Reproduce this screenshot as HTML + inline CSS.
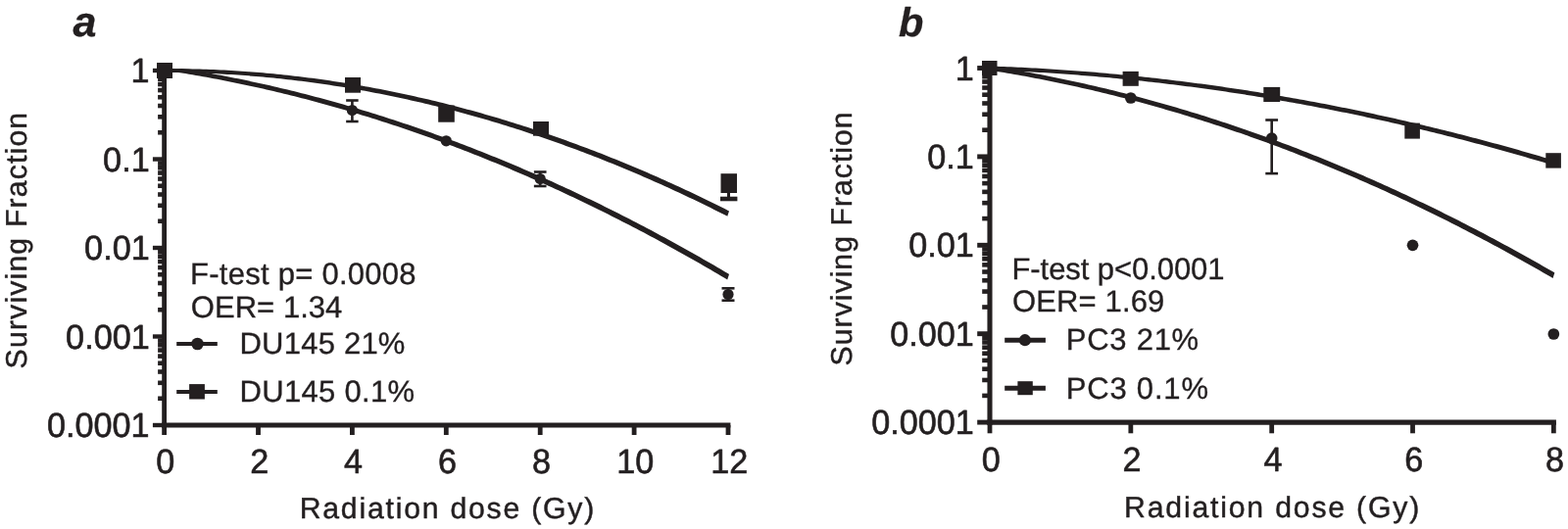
<!DOCTYPE html>
<html><head><meta charset="utf-8"><title>Surviving fraction vs radiation dose</title>
<style>
html,body{margin:0;padding:0;background:#fff;}
body{width:1600px;height:540px;overflow:hidden;}
svg{display:block;}
svg text{text-rendering:geometricPrecision;font-family:"Liberation Sans",Arial,Helvetica,sans-serif;fill:#231f20;white-space:pre;}
</style></head><body>
<svg width="1600" height="540" viewBox="0 0 1600 540">
<rect x="0" y="0" width="1600" height="540" fill="#ffffff"/>
<path d="M167.60,70.10 L171.20,70.10 L174.79,70.11 L178.39,70.13 L181.98,70.16 L185.58,70.20 L189.18,70.26 L192.77,70.33 L196.37,70.40 L199.97,70.49 L203.56,70.60 L207.16,70.71 L210.75,70.83 L214.35,70.97 L217.95,71.11 L221.54,71.27 L225.14,71.44 L228.74,71.62 L232.33,71.81 L235.93,72.02 L239.53,72.23 L243.12,72.46 L246.72,72.69 L250.31,72.94 L253.91,73.20 L257.51,73.48 L261.10,73.76 L264.70,74.05 L268.30,74.36 L271.89,74.68 L275.49,75.01 L279.08,75.35 L282.68,75.70 L286.28,76.06 L289.87,76.44 L293.47,76.82 L297.06,77.22 L300.66,77.63 L304.26,78.05 L307.85,78.48 L311.45,78.92 L315.05,79.38 L318.64,79.85 L322.24,80.32 L325.84,80.81 L329.43,81.31 L333.03,81.82 L336.62,82.35 L340.22,82.88 L343.82,83.43 L347.41,83.98 L351.01,84.55 L354.61,85.13 L358.20,85.72 L361.80,86.33 L365.39,86.94 L368.99,87.57 L372.59,88.20 L376.18,88.85 L379.78,89.51 L383.38,90.18 L386.97,90.86 L390.57,91.56 L394.16,92.26 L397.76,92.98 L401.36,93.71 L404.95,94.45 L408.55,95.20 L412.14,95.96 L415.74,96.74 L419.34,97.52 L422.93,98.32 L426.53,99.13 L430.13,99.95 L433.72,100.78 L437.32,101.62 L440.91,102.47 L444.51,103.34 L448.11,104.21 L451.70,105.10 L455.30,106.00 L458.90,106.91 L462.49,107.83 L466.09,108.77 L469.69,109.71 L473.28,110.67 L476.88,111.64 L480.47,112.62 L484.07,113.61 L487.67,114.61 L491.26,115.62 L494.86,116.65 L498.46,117.68 L502.05,118.73 L505.65,119.79 L509.24,120.86 L512.84,121.94 L516.44,123.04 L520.03,124.14 L523.63,125.26 L527.23,126.38 L530.82,127.52 L534.42,128.67 L538.01,129.84 L541.61,131.01 L545.21,132.19 L548.80,133.39 L552.40,134.60 L556.00,135.81 L559.59,137.05 L563.19,138.29 L566.78,139.54 L570.38,140.80 L573.98,142.08 L577.57,143.37 L581.17,144.67 L584.76,145.98 L588.36,147.30 L591.96,148.63 L595.55,149.97 L599.15,151.33 L602.75,152.70 L606.34,154.08 L609.94,155.47 L613.54,156.87 L617.13,158.28 L620.73,159.70 L624.32,161.14 L627.92,162.59 L631.52,164.04 L635.11,165.51 L638.71,167.00 L642.31,168.49 L645.90,169.99 L649.50,171.51 L653.09,173.03 L656.69,174.57 L660.29,176.12 L663.88,177.68 L667.48,179.25 L671.08,180.84 L674.67,182.43 L678.27,184.04 L681.86,185.66 L685.46,187.29 L689.06,188.93 L692.65,190.58 L696.25,192.24 L699.85,193.92 L703.44,195.61 L707.04,197.30 L710.63,199.01 L714.23,200.73 L717.83,202.47 L721.42,204.21 L725.02,205.96 L728.62,207.73 L732.21,209.51 L735.81,211.30 L739.40,213.10 L743.00,214.91 L744.00,215.41 L742.20,220.72 L743.00,221.12 L739.40,219.29 L735.81,217.48 L732.21,215.67 L728.62,213.88 L725.02,212.10 L721.42,210.33 L717.83,208.57 L714.23,206.82 L710.63,205.09 L707.04,203.36 L703.44,201.65 L699.85,199.95 L696.25,198.26 L692.65,196.58 L689.06,194.91 L685.46,193.26 L681.86,191.61 L678.27,189.98 L674.67,188.36 L671.08,186.75 L667.48,185.15 L663.88,183.56 L660.29,181.99 L656.69,180.42 L653.09,178.87 L649.50,177.33 L645.90,175.80 L642.31,174.28 L638.71,172.77 L635.11,171.27 L631.52,169.79 L627.92,168.31 L624.32,166.85 L620.73,165.40 L617.13,163.96 L613.54,162.54 L609.94,161.12 L606.34,159.71 L602.75,158.32 L599.15,156.94 L595.55,155.57 L591.96,154.21 L588.36,152.86 L584.76,151.52 L581.17,150.20 L577.57,148.88 L573.98,147.58 L570.38,146.29 L566.78,145.01 L563.19,143.74 L559.59,142.49 L556.00,141.24 L552.40,140.01 L548.80,138.79 L545.21,137.57 L541.61,136.38 L538.01,135.19 L534.42,134.01 L530.82,132.84 L527.23,131.69 L523.63,130.55 L520.03,129.42 L516.44,128.30 L512.84,127.19 L509.24,126.09 L505.65,125.01 L502.05,123.93 L498.46,122.87 L494.86,121.82 L491.26,120.78 L487.67,119.75 L484.07,118.73 L480.47,117.73 L476.88,116.73 L473.28,115.75 L469.69,114.78 L466.09,113.82 L462.49,112.87 L458.90,111.93 L455.30,111.01 L451.70,110.09 L448.11,109.19 L444.51,108.30 L440.91,107.42 L437.32,106.55 L433.72,105.69 L430.13,104.85 L426.53,104.01 L422.93,103.19 L419.34,102.38 L415.74,101.58 L412.14,100.79 L408.55,100.01 L404.95,99.24 L401.36,98.49 L397.76,97.74 L394.16,97.01 L390.57,96.29 L386.97,95.58 L383.38,94.89 L379.78,94.20 L376.18,93.52 L372.59,92.86 L368.99,92.21 L365.39,91.57 L361.80,90.94 L358.20,90.32 L354.61,89.71 L351.01,89.12 L347.41,88.54 L343.82,87.96 L340.22,87.40 L336.62,86.85 L333.03,86.32 L329.43,85.79 L325.84,85.27 L322.24,84.77 L318.64,84.28 L315.05,83.80 L311.45,83.33 L307.85,82.87 L304.26,82.42 L300.66,81.99 L297.06,81.56 L293.47,81.15 L289.87,80.75 L286.28,80.36 L282.68,79.98 L279.08,79.61 L275.49,79.26 L271.89,78.92 L268.30,78.58 L264.70,78.26 L261.10,77.95 L257.51,77.65 L253.91,77.37 L250.31,77.09 L246.72,76.83 L243.12,76.57 L239.53,76.33 L235.93,76.10 L232.33,75.88 L228.74,75.68 L225.14,75.48 L221.54,75.30 L217.95,75.12 L214.35,74.96 L210.75,74.81 L207.16,74.67 L203.56,74.55 L199.97,74.43 L196.37,74.33 L192.77,74.23 L189.18,74.15 L185.58,74.08 L181.98,74.02 L178.39,73.97 L174.79,73.94 L171.20,73.91 L167.60,73.90Z" fill="#231f20" stroke="none"/>
<path d="M167.60,70.10 L171.20,70.10 L174.79,70.11 L178.39,70.13 L181.98,70.16 L185.58,69.95 L189.18,70.53 L192.77,71.11 L196.37,71.71 L199.97,72.31 L203.56,72.93 L207.16,73.56 L210.75,74.19 L214.35,74.84 L217.95,75.50 L221.54,76.16 L225.14,76.84 L228.74,77.53 L232.33,78.22 L235.93,78.93 L239.53,79.65 L243.12,80.37 L246.72,81.11 L250.31,81.86 L253.91,82.61 L257.51,83.38 L261.10,84.16 L264.70,84.95 L268.30,85.74 L271.89,86.55 L275.49,87.37 L279.08,88.19 L282.68,89.03 L286.28,89.88 L289.87,90.74 L293.47,91.61 L297.06,92.48 L300.66,93.37 L304.26,94.27 L307.85,95.18 L311.45,96.09 L315.05,97.02 L318.64,97.96 L322.24,98.91 L325.84,99.87 L329.43,100.84 L333.03,101.81 L336.62,102.80 L340.22,103.80 L343.82,104.81 L347.41,105.83 L351.01,106.86 L354.61,107.90 L358.20,108.94 L361.80,110.00 L365.39,111.07 L368.99,112.15 L372.59,113.24 L376.18,114.34 L379.78,115.45 L383.38,116.57 L386.97,117.70 L390.57,118.84 L394.16,119.99 L397.76,121.15 L401.36,122.31 L404.95,123.49 L408.55,124.68 L412.14,125.88 L415.74,127.09 L419.34,128.31 L422.93,129.54 L426.53,130.78 L430.13,132.03 L433.72,133.29 L437.32,134.56 L440.91,135.84 L444.51,137.13 L448.11,138.43 L451.70,139.74 L455.30,141.07 L458.90,142.40 L462.49,143.74 L466.09,145.09 L469.69,146.45 L473.28,147.82 L476.88,149.20 L480.47,150.59 L484.07,151.99 L487.67,153.40 L491.26,154.82 L494.86,156.25 L498.46,157.70 L502.05,159.15 L505.65,160.61 L509.24,162.08 L512.84,163.56 L516.44,165.05 L520.03,166.55 L523.63,168.07 L527.23,169.59 L530.82,171.12 L534.42,172.66 L538.01,174.21 L541.61,175.77 L545.21,177.35 L548.80,178.93 L552.40,180.52 L556.00,182.12 L559.59,183.73 L563.19,185.36 L566.78,186.99 L570.38,188.63 L573.98,190.28 L577.57,191.95 L581.17,193.62 L584.76,195.30 L588.36,196.99 L591.96,198.70 L595.55,200.41 L599.15,202.13 L602.75,203.87 L606.34,205.61 L609.94,207.36 L613.54,209.12 L617.13,210.90 L620.73,212.68 L624.32,214.47 L627.92,216.28 L631.52,218.09 L635.11,219.91 L638.71,221.75 L642.31,223.59 L645.90,225.45 L649.50,227.31 L653.09,229.18 L656.69,231.07 L660.29,232.96 L663.88,234.87 L667.48,236.78 L671.08,238.70 L674.67,240.64 L678.27,242.58 L681.86,244.54 L685.46,246.50 L689.06,248.47 L692.65,250.46 L696.25,252.45 L699.85,254.46 L703.44,256.47 L707.04,258.50 L710.63,260.53 L714.23,262.58 L717.83,264.63 L721.42,266.70 L725.02,268.77 L728.62,270.86 L732.21,272.95 L735.81,275.06 L739.40,277.17 L743.00,279.30 L744.00,279.89 L742.20,285.45 L743.00,285.92 L739.40,283.78 L735.81,281.65 L732.21,279.53 L728.62,277.43 L725.02,275.33 L721.42,273.24 L717.83,271.16 L714.23,269.09 L710.63,267.04 L707.04,264.99 L703.44,262.95 L699.85,260.92 L696.25,258.90 L692.65,256.90 L689.06,254.90 L685.46,252.91 L681.86,250.93 L678.27,248.96 L674.67,247.01 L671.08,245.06 L667.48,243.12 L663.88,241.20 L660.29,239.28 L656.69,237.37 L653.09,235.47 L649.50,233.59 L645.90,231.71 L642.31,229.84 L638.71,227.99 L635.11,226.14 L631.52,224.30 L627.92,222.48 L624.32,220.66 L620.73,218.85 L617.13,217.06 L613.54,215.27 L609.94,213.49 L606.34,211.73 L602.75,209.97 L599.15,208.22 L595.55,206.49 L591.96,204.76 L588.36,203.05 L584.76,201.34 L581.17,199.64 L577.57,197.96 L573.98,196.28 L570.38,194.62 L566.78,192.96 L563.19,191.31 L559.59,189.68 L556.00,188.05 L552.40,186.44 L548.80,184.83 L545.21,183.24 L541.61,181.65 L538.01,180.08 L534.42,178.51 L530.82,176.96 L527.23,175.41 L523.63,173.88 L520.03,172.35 L516.44,170.84 L512.84,169.33 L509.24,167.84 L505.65,166.35 L502.05,164.88 L498.46,163.41 L494.86,161.96 L491.26,160.52 L487.67,159.08 L484.07,157.66 L480.47,156.24 L476.88,154.84 L473.28,153.44 L469.69,152.06 L466.09,150.69 L462.49,149.32 L458.90,147.97 L455.30,146.62 L451.70,145.29 L448.11,143.97 L444.51,142.65 L440.91,141.35 L437.32,140.06 L433.72,138.77 L430.13,137.50 L426.53,136.24 L422.93,134.98 L419.34,133.74 L415.74,132.51 L412.14,131.28 L408.55,130.07 L404.95,128.87 L401.36,127.67 L397.76,126.49 L394.16,125.32 L390.57,124.16 L386.97,123.00 L383.38,121.86 L379.78,120.73 L376.18,119.61 L372.59,118.49 L368.99,117.39 L365.39,116.30 L361.80,115.22 L358.20,114.15 L354.61,113.08 L351.01,112.03 L347.41,110.99 L343.82,109.96 L340.22,108.94 L336.62,107.92 L333.03,106.92 L329.43,105.93 L325.84,104.95 L322.24,103.98 L318.64,103.02 L315.05,102.06 L311.45,101.12 L307.85,100.19 L304.26,99.27 L300.66,98.36 L297.06,97.46 L293.47,96.57 L289.87,95.69 L286.28,94.81 L282.68,93.95 L279.08,93.10 L275.49,92.26 L271.89,91.43 L268.30,90.61 L264.70,89.80 L261.10,89.00 L257.51,88.21 L253.91,87.43 L250.31,86.66 L246.72,85.90 L243.12,85.15 L239.53,84.41 L235.93,83.68 L232.33,82.96 L228.74,82.25 L225.14,81.55 L221.54,80.86 L217.95,80.18 L214.35,79.51 L210.75,78.85 L207.16,78.20 L203.56,77.56 L199.97,76.93 L196.37,76.31 L192.77,75.70 L189.18,75.10 L185.58,74.51 L181.98,74.02 L178.39,73.97 L174.79,73.94 L171.20,73.91 L167.60,73.90Z" fill="#231f20" stroke="none"/>
<line x1="167.60" y1="69.80" x2="167.60" y2="436.40" stroke="#231f20" stroke-width="4.8"/>
<line x1="165.20" y1="434.00" x2="745.40" y2="434.00" stroke="#231f20" stroke-width="4.8"/>
<line x1="155.90" y1="72.00" x2="167.60" y2="72.00" stroke="#231f20" stroke-width="4.4"/>
<line x1="161.10" y1="135.26" x2="167.60" y2="135.26" stroke="#231f20" stroke-width="4.6"/>
<line x1="161.10" y1="119.32" x2="167.60" y2="119.32" stroke="#231f20" stroke-width="4.6"/>
<line x1="161.10" y1="108.01" x2="167.60" y2="108.01" stroke="#231f20" stroke-width="4.6"/>
<line x1="161.10" y1="99.24" x2="167.60" y2="99.24" stroke="#231f20" stroke-width="4.6"/>
<line x1="161.10" y1="92.08" x2="167.60" y2="92.08" stroke="#231f20" stroke-width="4.6"/>
<line x1="161.10" y1="86.02" x2="167.60" y2="86.02" stroke="#231f20" stroke-width="4.6"/>
<line x1="161.10" y1="80.77" x2="167.60" y2="80.77" stroke="#231f20" stroke-width="4.6"/>
<line x1="161.10" y1="76.14" x2="167.60" y2="76.14" stroke="#231f20" stroke-width="4.6"/>
<line x1="155.90" y1="162.50" x2="167.60" y2="162.50" stroke="#231f20" stroke-width="4.4"/>
<line x1="161.10" y1="225.76" x2="167.60" y2="225.76" stroke="#231f20" stroke-width="4.6"/>
<line x1="161.10" y1="209.82" x2="167.60" y2="209.82" stroke="#231f20" stroke-width="4.6"/>
<line x1="161.10" y1="198.51" x2="167.60" y2="198.51" stroke="#231f20" stroke-width="4.6"/>
<line x1="161.10" y1="189.74" x2="167.60" y2="189.74" stroke="#231f20" stroke-width="4.6"/>
<line x1="161.10" y1="182.58" x2="167.60" y2="182.58" stroke="#231f20" stroke-width="4.6"/>
<line x1="161.10" y1="176.52" x2="167.60" y2="176.52" stroke="#231f20" stroke-width="4.6"/>
<line x1="161.10" y1="171.27" x2="167.60" y2="171.27" stroke="#231f20" stroke-width="4.6"/>
<line x1="161.10" y1="166.64" x2="167.60" y2="166.64" stroke="#231f20" stroke-width="4.6"/>
<line x1="155.90" y1="253.00" x2="167.60" y2="253.00" stroke="#231f20" stroke-width="4.4"/>
<line x1="161.10" y1="316.26" x2="167.60" y2="316.26" stroke="#231f20" stroke-width="4.6"/>
<line x1="161.10" y1="300.32" x2="167.60" y2="300.32" stroke="#231f20" stroke-width="4.6"/>
<line x1="161.10" y1="289.01" x2="167.60" y2="289.01" stroke="#231f20" stroke-width="4.6"/>
<line x1="161.10" y1="280.24" x2="167.60" y2="280.24" stroke="#231f20" stroke-width="4.6"/>
<line x1="161.10" y1="273.08" x2="167.60" y2="273.08" stroke="#231f20" stroke-width="4.6"/>
<line x1="161.10" y1="267.02" x2="167.60" y2="267.02" stroke="#231f20" stroke-width="4.6"/>
<line x1="161.10" y1="261.77" x2="167.60" y2="261.77" stroke="#231f20" stroke-width="4.6"/>
<line x1="161.10" y1="257.14" x2="167.60" y2="257.14" stroke="#231f20" stroke-width="4.6"/>
<line x1="155.90" y1="343.50" x2="167.60" y2="343.50" stroke="#231f20" stroke-width="4.4"/>
<line x1="161.10" y1="406.76" x2="167.60" y2="406.76" stroke="#231f20" stroke-width="4.6"/>
<line x1="161.10" y1="390.82" x2="167.60" y2="390.82" stroke="#231f20" stroke-width="4.6"/>
<line x1="161.10" y1="379.51" x2="167.60" y2="379.51" stroke="#231f20" stroke-width="4.6"/>
<line x1="161.10" y1="370.74" x2="167.60" y2="370.74" stroke="#231f20" stroke-width="4.6"/>
<line x1="161.10" y1="363.58" x2="167.60" y2="363.58" stroke="#231f20" stroke-width="4.6"/>
<line x1="161.10" y1="357.52" x2="167.60" y2="357.52" stroke="#231f20" stroke-width="4.6"/>
<line x1="161.10" y1="352.27" x2="167.60" y2="352.27" stroke="#231f20" stroke-width="4.6"/>
<line x1="161.10" y1="347.64" x2="167.60" y2="347.64" stroke="#231f20" stroke-width="4.6"/>
<line x1="155.90" y1="434.00" x2="167.60" y2="434.00" stroke="#231f20" stroke-width="4.4"/>
<line x1="167.60" y1="434.00" x2="167.60" y2="444.00" stroke="#231f20" stroke-width="4.8"/>
<text transform="translate(168.80,482.70) scale(1,1.025)" font-size="34.2" letter-spacing="0.000" stroke="#231f20" stroke-width="0.6" stroke-linejoin="round" text-anchor="middle">0</text>
<line x1="263.50" y1="434.00" x2="263.50" y2="444.00" stroke="#231f20" stroke-width="4.8"/>
<text transform="translate(264.70,482.70) scale(1,1.025)" font-size="34.2" letter-spacing="0.000" stroke="#231f20" stroke-width="0.6" stroke-linejoin="round" text-anchor="middle">2</text>
<line x1="359.40" y1="434.00" x2="359.40" y2="444.00" stroke="#231f20" stroke-width="4.8"/>
<text transform="translate(360.60,482.70) scale(1,1.025)" font-size="34.2" letter-spacing="0.000" stroke="#231f20" stroke-width="0.6" stroke-linejoin="round" text-anchor="middle">4</text>
<line x1="455.30" y1="434.00" x2="455.30" y2="444.00" stroke="#231f20" stroke-width="4.8"/>
<text transform="translate(456.50,482.70) scale(1,1.025)" font-size="34.2" letter-spacing="0.000" stroke="#231f20" stroke-width="0.6" stroke-linejoin="round" text-anchor="middle">6</text>
<line x1="551.20" y1="434.00" x2="551.20" y2="444.00" stroke="#231f20" stroke-width="4.8"/>
<text transform="translate(552.40,482.70) scale(1,1.025)" font-size="34.2" letter-spacing="0.000" stroke="#231f20" stroke-width="0.6" stroke-linejoin="round" text-anchor="middle">8</text>
<line x1="647.10" y1="434.00" x2="647.10" y2="444.00" stroke="#231f20" stroke-width="4.8"/>
<text transform="translate(648.30,482.70) scale(1,1.025)" font-size="34.2" letter-spacing="0.000" stroke="#231f20" stroke-width="0.6" stroke-linejoin="round" text-anchor="middle">10</text>
<line x1="743.00" y1="434.00" x2="743.00" y2="444.00" stroke="#231f20" stroke-width="4.8"/>
<text transform="translate(744.20,482.70) scale(1,1.025)" font-size="34.2" letter-spacing="0.000" stroke="#231f20" stroke-width="0.6" stroke-linejoin="round" text-anchor="middle">12</text>
<text transform="translate(133.62,84.30) scale(1,1.025)" font-size="34.2" letter-spacing="0.000" stroke="#231f20" stroke-width="0.6" stroke-linejoin="round" >1</text>
<text transform="translate(105.12,174.80) scale(1,1.025)" font-size="34.2" letter-spacing="0.000" stroke="#231f20" stroke-width="0.6" stroke-linejoin="round" >0.1</text>
<text transform="translate(86.12,265.30) scale(1,1.025)" font-size="34.2" letter-spacing="0.000" stroke="#231f20" stroke-width="0.6" stroke-linejoin="round" >0.01</text>
<text transform="translate(67.12,355.80) scale(1,1.025)" font-size="34.2" letter-spacing="0.000" stroke="#231f20" stroke-width="0.6" stroke-linejoin="round" >0.001</text>
<text transform="translate(48.00,446.30) scale(1,1.025)" font-size="34.2" letter-spacing="0.000" stroke="#231f20" stroke-width="0.6" stroke-linejoin="round" >0.0001</text>
<line x1="359.40" y1="102.50" x2="359.40" y2="124.00" stroke="#231f20" stroke-width="2.6"/>
<line x1="353.15" y1="102.50" x2="365.65" y2="102.50" stroke="#231f20" stroke-width="2.6"/>
<line x1="353.15" y1="124.00" x2="365.65" y2="124.00" stroke="#231f20" stroke-width="2.6"/>
<circle cx="359.40" cy="112.50" r="5.6" fill="#231f20"/>
<circle cx="455.30" cy="143.80" r="5.6" fill="#231f20"/>
<line x1="551.20" y1="175.50" x2="551.20" y2="190.00" stroke="#231f20" stroke-width="2.6"/>
<line x1="544.85" y1="175.50" x2="557.55" y2="175.50" stroke="#231f20" stroke-width="2.6"/>
<line x1="544.85" y1="190.00" x2="557.55" y2="190.00" stroke="#231f20" stroke-width="2.6"/>
<circle cx="551.20" cy="182.50" r="5.6" fill="#231f20"/>
<line x1="743.00" y1="294.30" x2="743.00" y2="306.70" stroke="#231f20" stroke-width="2.6"/>
<line x1="736.50" y1="294.30" x2="749.50" y2="294.30" stroke="#231f20" stroke-width="2.6"/>
<line x1="736.50" y1="306.70" x2="749.50" y2="306.70" stroke="#231f20" stroke-width="2.6"/>
<circle cx="743.00" cy="300.50" r="5.6" fill="#231f20"/>
<rect x="160.00" y="64.00" width="16.00" height="16.00" fill="#231f20"/>
<rect x="352.00" y="79.00" width="16.00" height="15.70" fill="#231f20"/>
<rect x="447.20" y="107.50" width="16.60" height="17.20" fill="#231f20"/>
<rect x="544.00" y="124.00" width="16.00" height="14.70" fill="#231f20"/>
<rect x="735.50" y="177.20" width="16.50" height="19.80" fill="#231f20"/>
<line x1="743.5" y1="196" x2="743.5" y2="203" stroke="#231f20" stroke-width="3"/>
<line x1="735" y1="203" x2="752.4" y2="203" stroke="#231f20" stroke-width="4.6"/>
<text transform="translate(74.55,37.30)" font-size="43" letter-spacing="0.000" stroke="#231f20" stroke-width="0.35" stroke-linejoin="round" font-weight="bold" font-style="italic">a</text>
<text transform="translate(305.70,529.40)" font-size="30.2" letter-spacing="1.781" stroke="#231f20" stroke-width="0.45" stroke-linejoin="round" >Radiation dose (Gy)</text>
<text transform="translate(27.00,376.38) rotate(-90)" font-size="30.2" letter-spacing="1.172" stroke="#231f20" stroke-width="0.45" stroke-linejoin="round" >Surviving Fraction</text>
<text transform="translate(194.10,290.30)" font-size="31.0" letter-spacing="0.257" stroke="#231f20" stroke-width="0.35" stroke-linejoin="round" >F-test p= 0.0008</text>
<text transform="translate(194.80,324.30)" font-size="31.0" letter-spacing="0.041" stroke="#231f20" stroke-width="0.35" stroke-linejoin="round" >OER= 1.34</text>
<line x1="180.2" y1="351" x2="221.8" y2="351" stroke="#231f20" stroke-width="4.2"/>
<circle cx="201.5" cy="351" r="6.3" fill="#231f20"/>
<text transform="translate(244.50,361.20)" font-size="31.0" letter-spacing="0.222" stroke="#231f20" stroke-width="0.35" stroke-linejoin="round" >DU145 21%</text>
<line x1="180.2" y1="400" x2="221.8" y2="400" stroke="#231f20" stroke-width="4.2"/>
<rect x="193.1" y="392.1" width="15.8" height="15.4" fill="#231f20"/>
<text transform="translate(244.50,409.80)" font-size="31.0" letter-spacing="0.306" stroke="#231f20" stroke-width="0.35" stroke-linejoin="round" >DU145 0.1%</text>
<path d="M1010.00,67.52 L1013.60,67.64 L1017.19,67.77 L1020.79,67.91 L1024.38,68.05 L1027.98,68.20 L1031.58,68.36 L1035.17,68.52 L1038.77,68.69 L1042.36,68.86 L1045.96,69.04 L1049.56,69.22 L1053.15,69.41 L1056.75,69.61 L1060.34,69.81 L1063.94,70.02 L1067.54,70.24 L1071.13,70.46 L1074.73,70.69 L1078.32,70.92 L1081.92,71.16 L1085.52,71.40 L1089.11,71.65 L1092.71,71.91 L1096.30,72.17 L1099.90,72.44 L1103.50,72.72 L1107.09,73.00 L1110.69,73.28 L1114.28,73.58 L1117.88,73.87 L1121.48,74.18 L1125.07,74.49 L1128.67,74.81 L1132.26,75.13 L1135.86,75.46 L1139.46,75.79 L1143.05,76.13 L1146.65,76.48 L1150.24,76.83 L1153.84,77.19 L1157.44,77.55 L1161.03,77.92 L1164.63,78.30 L1168.22,78.68 L1171.82,79.07 L1175.42,79.46 L1179.01,79.87 L1182.61,80.27 L1186.20,80.68 L1189.80,81.10 L1193.40,81.53 L1196.99,81.96 L1200.59,82.39 L1204.18,82.83 L1207.78,83.28 L1211.38,83.74 L1214.97,84.20 L1218.57,84.66 L1222.16,85.13 L1225.76,85.61 L1229.36,86.10 L1232.95,86.59 L1236.55,87.08 L1240.14,87.58 L1243.74,88.09 L1247.34,88.61 L1250.93,89.13 L1254.53,89.65 L1258.12,90.18 L1261.72,90.72 L1265.32,91.27 L1268.91,91.82 L1272.51,92.37 L1276.10,92.93 L1279.70,93.50 L1283.30,94.07 L1286.89,94.65 L1290.49,95.24 L1294.08,95.83 L1297.68,96.43 L1301.28,97.03 L1304.87,97.64 L1308.47,98.26 L1312.06,98.88 L1315.66,99.51 L1319.26,100.14 L1322.85,100.78 L1326.45,101.42 L1330.04,102.08 L1333.64,102.73 L1337.24,103.40 L1340.83,104.07 L1344.43,104.74 L1348.02,105.42 L1351.62,106.11 L1355.22,106.80 L1358.81,107.50 L1362.41,108.21 L1366.00,108.92 L1369.60,109.64 L1373.20,110.36 L1376.79,111.09 L1380.39,111.82 L1383.98,112.57 L1387.58,113.31 L1391.18,114.07 L1394.77,114.82 L1398.37,115.59 L1401.96,116.36 L1405.56,117.14 L1409.16,117.92 L1412.75,118.71 L1416.35,119.50 L1419.94,120.31 L1423.54,121.11 L1427.14,121.93 L1430.73,122.74 L1434.33,123.57 L1437.92,124.40 L1441.52,125.24 L1445.12,126.08 L1448.71,126.93 L1452.31,127.78 L1455.90,128.64 L1459.50,129.51 L1463.10,130.38 L1466.69,131.26 L1470.29,132.15 L1473.88,133.04 L1477.48,133.93 L1481.08,134.84 L1484.67,135.74 L1488.27,136.66 L1491.86,137.58 L1495.46,138.51 L1499.06,139.44 L1502.65,140.38 L1506.25,141.32 L1509.84,142.27 L1513.44,143.23 L1517.04,144.19 L1520.63,145.16 L1524.23,146.13 L1527.82,147.11 L1531.42,148.10 L1535.02,149.09 L1538.61,150.09 L1542.21,151.10 L1545.80,152.11 L1549.40,153.12 L1553.00,154.14 L1556.59,155.17 L1560.19,156.21 L1563.78,157.25 L1567.38,158.29 L1570.98,159.34 L1574.57,160.40 L1578.17,161.47 L1581.76,162.54 L1585.36,163.61 L1586.36,163.91 L1584.56,168.60 L1585.36,168.84 L1581.76,167.76 L1578.17,166.68 L1574.57,165.61 L1570.98,164.54 L1567.38,163.48 L1563.78,162.43 L1560.19,161.38 L1556.59,160.34 L1553.00,159.30 L1549.40,158.27 L1545.80,157.25 L1542.21,156.23 L1538.61,155.22 L1535.02,154.21 L1531.42,153.21 L1527.82,152.22 L1524.23,151.23 L1520.63,150.25 L1517.04,149.27 L1513.44,148.30 L1509.84,147.34 L1506.25,146.38 L1502.65,145.43 L1499.06,144.48 L1495.46,143.54 L1491.86,142.61 L1488.27,141.68 L1484.67,140.75 L1481.08,139.84 L1477.48,138.93 L1473.88,138.02 L1470.29,137.12 L1466.69,136.23 L1463.10,135.35 L1459.50,134.46 L1455.90,133.59 L1452.31,132.72 L1448.71,131.86 L1445.12,131.00 L1441.52,130.15 L1437.92,129.31 L1434.33,128.47 L1430.73,127.64 L1427.14,126.81 L1423.54,125.99 L1419.94,125.17 L1416.35,124.36 L1412.75,123.56 L1409.16,122.76 L1405.56,121.97 L1401.96,121.19 L1398.37,120.41 L1394.77,119.64 L1391.18,118.87 L1387.58,118.11 L1383.98,117.35 L1380.39,116.60 L1376.79,115.86 L1373.20,115.12 L1369.60,114.39 L1366.00,113.67 L1362.41,112.95 L1358.81,112.24 L1355.22,111.53 L1351.62,110.83 L1348.02,110.13 L1344.43,109.44 L1340.83,108.76 L1337.24,108.08 L1333.64,107.41 L1330.04,106.75 L1326.45,106.09 L1322.85,105.43 L1319.26,104.79 L1315.66,104.14 L1312.06,103.51 L1308.47,102.88 L1304.87,102.26 L1301.28,101.64 L1297.68,101.03 L1294.08,100.42 L1290.49,99.82 L1286.89,99.23 L1283.30,98.64 L1279.70,98.06 L1276.10,97.48 L1272.51,96.91 L1268.91,96.35 L1265.32,95.79 L1261.72,95.24 L1258.12,94.70 L1254.53,94.16 L1250.93,93.62 L1247.34,93.09 L1243.74,92.57 L1240.14,92.06 L1236.55,91.55 L1232.95,91.04 L1229.36,90.55 L1225.76,90.05 L1222.16,89.57 L1218.57,89.09 L1214.97,88.61 L1211.38,88.15 L1207.78,87.68 L1204.18,87.23 L1200.59,86.78 L1196.99,86.33 L1193.40,85.90 L1189.80,85.46 L1186.20,85.04 L1182.61,84.62 L1179.01,84.20 L1175.42,83.79 L1171.82,83.39 L1168.22,83.00 L1164.63,82.61 L1161.03,82.22 L1157.44,81.84 L1153.84,81.47 L1150.24,81.10 L1146.65,80.74 L1143.05,80.39 L1139.46,80.04 L1135.86,79.70 L1132.26,79.36 L1128.67,79.03 L1125.07,78.71 L1121.48,78.39 L1117.88,78.08 L1114.28,77.77 L1110.69,77.47 L1107.09,77.18 L1103.50,76.89 L1099.90,76.60 L1096.30,76.33 L1092.71,76.06 L1089.11,75.79 L1085.52,75.53 L1081.92,75.28 L1078.32,75.03 L1074.73,74.79 L1071.13,74.56 L1067.54,74.33 L1063.94,74.11 L1060.34,73.89 L1056.75,73.68 L1053.15,73.48 L1049.56,73.28 L1045.96,73.08 L1042.36,72.90 L1038.77,72.72 L1035.17,72.54 L1031.58,72.37 L1027.98,72.21 L1024.38,72.05 L1020.79,71.90 L1017.19,71.76 L1013.60,71.62 L1010.00,71.48Z" fill="#231f20" stroke="none"/>
<path d="M1010.00,67.37 L1013.60,67.79 L1017.19,68.35 L1020.79,68.93 L1024.38,69.51 L1027.98,70.10 L1031.58,70.71 L1035.17,71.32 L1038.77,71.94 L1042.36,72.57 L1045.96,73.21 L1049.56,73.86 L1053.15,74.52 L1056.75,75.19 L1060.34,75.87 L1063.94,76.56 L1067.54,77.26 L1071.13,77.97 L1074.73,78.68 L1078.32,79.41 L1081.92,80.15 L1085.52,80.90 L1089.11,81.65 L1092.71,82.42 L1096.30,83.19 L1099.90,83.98 L1103.50,84.77 L1107.09,85.58 L1110.69,86.39 L1114.28,87.21 L1117.88,88.04 L1121.48,88.89 L1125.07,89.74 L1128.67,90.60 L1132.26,91.47 L1135.86,92.35 L1139.46,93.24 L1143.05,94.14 L1146.65,95.05 L1150.24,95.97 L1153.84,96.90 L1157.44,97.84 L1161.03,98.78 L1164.63,99.74 L1168.22,100.71 L1171.82,101.68 L1175.42,102.67 L1179.01,103.66 L1182.61,104.67 L1186.20,105.68 L1189.80,106.71 L1193.40,107.74 L1196.99,108.79 L1200.59,109.84 L1204.18,110.90 L1207.78,111.97 L1211.38,113.06 L1214.97,114.15 L1218.57,115.25 L1222.16,116.36 L1225.76,117.48 L1229.36,118.61 L1232.95,119.75 L1236.55,120.90 L1240.14,122.05 L1243.74,123.22 L1247.34,124.40 L1250.93,125.59 L1254.53,126.78 L1258.12,127.99 L1261.72,129.21 L1265.32,130.43 L1268.91,131.67 L1272.51,132.91 L1276.10,134.16 L1279.70,135.43 L1283.30,136.70 L1286.89,137.98 L1290.49,139.28 L1294.08,140.58 L1297.68,141.89 L1301.28,143.21 L1304.87,144.54 L1308.47,145.88 L1312.06,147.23 L1315.66,148.59 L1319.26,149.96 L1322.85,151.34 L1326.45,152.73 L1330.04,154.13 L1333.64,155.53 L1337.24,156.95 L1340.83,158.38 L1344.43,159.81 L1348.02,161.26 L1351.62,162.71 L1355.22,164.18 L1358.81,165.65 L1362.41,167.14 L1366.00,168.63 L1369.60,170.13 L1373.20,171.65 L1376.79,173.17 L1380.39,174.70 L1383.98,176.24 L1387.58,177.79 L1391.18,179.36 L1394.77,180.93 L1398.37,182.51 L1401.96,184.10 L1405.56,185.69 L1409.16,187.30 L1412.75,188.92 L1416.35,190.55 L1419.94,192.19 L1423.54,193.83 L1427.14,195.49 L1430.73,197.16 L1434.33,198.83 L1437.92,200.52 L1441.52,202.21 L1445.12,203.92 L1448.71,205.63 L1452.31,207.35 L1455.90,209.09 L1459.50,210.83 L1463.10,212.58 L1466.69,214.34 L1470.29,216.11 L1473.88,217.90 L1477.48,219.69 L1481.08,221.49 L1484.67,223.30 L1488.27,225.12 L1491.86,226.94 L1495.46,228.78 L1499.06,230.63 L1502.65,232.49 L1506.25,234.36 L1509.84,236.23 L1513.44,238.12 L1517.04,240.02 L1520.63,241.92 L1524.23,243.84 L1527.82,245.76 L1531.42,247.70 L1535.02,249.64 L1538.61,251.59 L1542.21,253.56 L1545.80,255.53 L1549.40,257.51 L1553.00,259.50 L1556.59,261.50 L1560.19,263.52 L1563.78,265.54 L1567.38,267.57 L1570.98,269.61 L1574.57,271.65 L1578.17,273.71 L1581.76,275.78 L1585.36,277.86 L1586.36,278.44 L1584.56,283.96 L1585.36,284.42 L1581.76,282.33 L1578.17,280.25 L1574.57,278.18 L1570.98,276.11 L1567.38,274.06 L1563.78,272.02 L1560.19,269.99 L1556.59,267.96 L1553.00,265.95 L1549.40,263.94 L1545.80,261.95 L1542.21,259.96 L1538.61,257.99 L1535.02,256.02 L1531.42,254.07 L1527.82,252.12 L1524.23,250.18 L1520.63,248.25 L1517.04,246.33 L1513.44,244.43 L1509.84,242.53 L1506.25,240.64 L1502.65,238.76 L1499.06,236.89 L1495.46,235.03 L1491.86,233.18 L1488.27,231.33 L1484.67,229.50 L1481.08,227.68 L1477.48,225.87 L1473.88,224.06 L1470.29,222.27 L1466.69,220.49 L1463.10,218.71 L1459.50,216.95 L1455.90,215.19 L1452.31,213.44 L1448.71,211.71 L1445.12,209.98 L1441.52,208.26 L1437.92,206.56 L1434.33,204.86 L1430.73,203.17 L1427.14,201.49 L1423.54,199.82 L1419.94,198.16 L1416.35,196.51 L1412.75,194.87 L1409.16,193.24 L1405.56,191.62 L1401.96,190.01 L1398.37,188.41 L1394.77,186.81 L1391.18,185.23 L1387.58,183.66 L1383.98,182.09 L1380.39,180.54 L1376.79,179.00 L1373.20,177.46 L1369.60,175.94 L1366.00,174.42 L1362.41,172.91 L1358.81,171.42 L1355.22,169.93 L1351.62,168.45 L1348.02,166.98 L1344.43,165.53 L1340.83,164.08 L1337.24,162.64 L1333.64,161.21 L1330.04,159.79 L1326.45,158.38 L1322.85,156.98 L1319.26,155.58 L1315.66,154.20 L1312.06,152.83 L1308.47,151.47 L1304.87,150.11 L1301.28,148.77 L1297.68,147.44 L1294.08,146.11 L1290.49,144.80 L1286.89,143.49 L1283.30,142.20 L1279.70,140.91 L1276.10,139.64 L1272.51,138.37 L1268.91,137.11 L1265.32,135.86 L1261.72,134.63 L1258.12,133.40 L1254.53,132.18 L1250.93,130.97 L1247.34,129.77 L1243.74,128.58 L1240.14,127.40 L1236.55,126.23 L1232.95,125.07 L1229.36,123.91 L1225.76,122.77 L1222.16,121.64 L1218.57,120.52 L1214.97,119.40 L1211.38,118.30 L1207.78,117.20 L1204.18,116.12 L1200.59,115.04 L1196.99,113.98 L1193.40,112.92 L1189.80,111.88 L1186.20,110.84 L1182.61,109.81 L1179.01,108.79 L1175.42,107.79 L1171.82,106.79 L1168.22,105.80 L1164.63,104.82 L1161.03,103.85 L1157.44,102.89 L1153.84,101.94 L1150.24,101.00 L1146.65,100.07 L1143.05,99.14 L1139.46,98.23 L1135.86,97.33 L1132.26,96.44 L1128.67,95.55 L1125.07,94.68 L1121.48,93.81 L1117.88,92.96 L1114.28,92.11 L1110.69,91.28 L1107.09,90.45 L1103.50,89.64 L1099.90,88.83 L1096.30,88.03 L1092.71,87.24 L1089.11,86.46 L1085.52,85.70 L1081.92,84.94 L1078.32,84.19 L1074.73,83.45 L1071.13,82.72 L1067.54,82.00 L1063.94,81.29 L1060.34,80.58 L1056.75,79.89 L1053.15,79.21 L1049.56,78.54 L1045.96,77.87 L1042.36,77.22 L1038.77,76.58 L1035.17,75.94 L1031.58,75.32 L1027.98,74.70 L1024.38,74.09 L1020.79,73.50 L1017.19,72.91 L1013.60,72.33 L1010.00,71.63Z" fill="#231f20" stroke="none"/>
<line x1="1010.00" y1="67.05" x2="1010.00" y2="433.65" stroke="#231f20" stroke-width="5.1"/>
<line x1="1007.45" y1="431.10" x2="1587.91" y2="431.10" stroke="#231f20" stroke-width="5.1"/>
<line x1="997.20" y1="69.50" x2="1010.00" y2="69.50" stroke="#231f20" stroke-width="4.9"/>
<line x1="1002.20" y1="132.69" x2="1010.00" y2="132.69" stroke="#231f20" stroke-width="4.6"/>
<line x1="1002.20" y1="116.77" x2="1010.00" y2="116.77" stroke="#231f20" stroke-width="4.6"/>
<line x1="1002.20" y1="105.47" x2="1010.00" y2="105.47" stroke="#231f20" stroke-width="4.6"/>
<line x1="1002.20" y1="96.71" x2="1010.00" y2="96.71" stroke="#231f20" stroke-width="4.6"/>
<line x1="1002.20" y1="89.56" x2="1010.00" y2="89.56" stroke="#231f20" stroke-width="4.6"/>
<line x1="1002.20" y1="83.50" x2="1010.00" y2="83.50" stroke="#231f20" stroke-width="4.6"/>
<line x1="1002.20" y1="78.26" x2="1010.00" y2="78.26" stroke="#231f20" stroke-width="4.6"/>
<line x1="1002.20" y1="73.64" x2="1010.00" y2="73.64" stroke="#231f20" stroke-width="4.6"/>
<line x1="997.20" y1="159.90" x2="1010.00" y2="159.90" stroke="#231f20" stroke-width="4.9"/>
<line x1="1002.20" y1="223.09" x2="1010.00" y2="223.09" stroke="#231f20" stroke-width="4.6"/>
<line x1="1002.20" y1="207.17" x2="1010.00" y2="207.17" stroke="#231f20" stroke-width="4.6"/>
<line x1="1002.20" y1="195.87" x2="1010.00" y2="195.87" stroke="#231f20" stroke-width="4.6"/>
<line x1="1002.20" y1="187.11" x2="1010.00" y2="187.11" stroke="#231f20" stroke-width="4.6"/>
<line x1="1002.20" y1="179.96" x2="1010.00" y2="179.96" stroke="#231f20" stroke-width="4.6"/>
<line x1="1002.20" y1="173.90" x2="1010.00" y2="173.90" stroke="#231f20" stroke-width="4.6"/>
<line x1="1002.20" y1="168.66" x2="1010.00" y2="168.66" stroke="#231f20" stroke-width="4.6"/>
<line x1="1002.20" y1="164.04" x2="1010.00" y2="164.04" stroke="#231f20" stroke-width="4.6"/>
<line x1="997.20" y1="250.30" x2="1010.00" y2="250.30" stroke="#231f20" stroke-width="4.9"/>
<line x1="1002.20" y1="313.49" x2="1010.00" y2="313.49" stroke="#231f20" stroke-width="4.6"/>
<line x1="1002.20" y1="297.57" x2="1010.00" y2="297.57" stroke="#231f20" stroke-width="4.6"/>
<line x1="1002.20" y1="286.27" x2="1010.00" y2="286.27" stroke="#231f20" stroke-width="4.6"/>
<line x1="1002.20" y1="277.51" x2="1010.00" y2="277.51" stroke="#231f20" stroke-width="4.6"/>
<line x1="1002.20" y1="270.36" x2="1010.00" y2="270.36" stroke="#231f20" stroke-width="4.6"/>
<line x1="1002.20" y1="264.30" x2="1010.00" y2="264.30" stroke="#231f20" stroke-width="4.6"/>
<line x1="1002.20" y1="259.06" x2="1010.00" y2="259.06" stroke="#231f20" stroke-width="4.6"/>
<line x1="1002.20" y1="254.44" x2="1010.00" y2="254.44" stroke="#231f20" stroke-width="4.6"/>
<line x1="997.20" y1="340.70" x2="1010.00" y2="340.70" stroke="#231f20" stroke-width="4.9"/>
<line x1="1002.20" y1="403.89" x2="1010.00" y2="403.89" stroke="#231f20" stroke-width="4.6"/>
<line x1="1002.20" y1="387.97" x2="1010.00" y2="387.97" stroke="#231f20" stroke-width="4.6"/>
<line x1="1002.20" y1="376.67" x2="1010.00" y2="376.67" stroke="#231f20" stroke-width="4.6"/>
<line x1="1002.20" y1="367.91" x2="1010.00" y2="367.91" stroke="#231f20" stroke-width="4.6"/>
<line x1="1002.20" y1="360.76" x2="1010.00" y2="360.76" stroke="#231f20" stroke-width="4.6"/>
<line x1="1002.20" y1="354.70" x2="1010.00" y2="354.70" stroke="#231f20" stroke-width="4.6"/>
<line x1="1002.20" y1="349.46" x2="1010.00" y2="349.46" stroke="#231f20" stroke-width="4.6"/>
<line x1="1002.20" y1="344.84" x2="1010.00" y2="344.84" stroke="#231f20" stroke-width="4.6"/>
<line x1="997.20" y1="431.10" x2="1010.00" y2="431.10" stroke="#231f20" stroke-width="4.9"/>
<line x1="1010.00" y1="431.10" x2="1010.00" y2="442.30" stroke="#231f20" stroke-width="4.8"/>
<text transform="translate(1011.20,480.90) scale(1,1.025)" font-size="34.2" letter-spacing="0.000" stroke="#231f20" stroke-width="0.6" stroke-linejoin="round" text-anchor="middle">0</text>
<line x1="1153.84" y1="431.10" x2="1153.84" y2="442.30" stroke="#231f20" stroke-width="4.8"/>
<text transform="translate(1155.04,480.90) scale(1,1.025)" font-size="34.2" letter-spacing="0.000" stroke="#231f20" stroke-width="0.6" stroke-linejoin="round" text-anchor="middle">2</text>
<line x1="1297.68" y1="431.10" x2="1297.68" y2="442.30" stroke="#231f20" stroke-width="4.8"/>
<text transform="translate(1298.88,480.90) scale(1,1.025)" font-size="34.2" letter-spacing="0.000" stroke="#231f20" stroke-width="0.6" stroke-linejoin="round" text-anchor="middle">4</text>
<line x1="1441.52" y1="431.10" x2="1441.52" y2="442.30" stroke="#231f20" stroke-width="4.8"/>
<text transform="translate(1442.72,480.90) scale(1,1.025)" font-size="34.2" letter-spacing="0.000" stroke="#231f20" stroke-width="0.6" stroke-linejoin="round" text-anchor="middle">6</text>
<line x1="1585.36" y1="431.10" x2="1585.36" y2="442.30" stroke="#231f20" stroke-width="4.8"/>
<text transform="translate(1586.56,480.90) scale(1,1.025)" font-size="34.2" letter-spacing="0.000" stroke="#231f20" stroke-width="0.6" stroke-linejoin="round" text-anchor="middle">8</text>
<text transform="translate(974.83,81.60) scale(1,1.025)" font-size="34.2" letter-spacing="0.000" stroke="#231f20" stroke-width="0.6" stroke-linejoin="round" >1</text>
<text transform="translate(946.33,172.00) scale(1,1.025)" font-size="34.2" letter-spacing="0.000" stroke="#231f20" stroke-width="0.6" stroke-linejoin="round" >0.1</text>
<text transform="translate(927.33,262.40) scale(1,1.025)" font-size="34.2" letter-spacing="0.000" stroke="#231f20" stroke-width="0.6" stroke-linejoin="round" >0.01</text>
<text transform="translate(908.33,352.80) scale(1,1.025)" font-size="34.2" letter-spacing="0.000" stroke="#231f20" stroke-width="0.6" stroke-linejoin="round" >0.001</text>
<text transform="translate(889.20,443.20) scale(1,1.025)" font-size="34.2" letter-spacing="0.000" stroke="#231f20" stroke-width="0.6" stroke-linejoin="round" >0.0001</text>
<circle cx="1153.84" cy="100.00" r="5.85" fill="#231f20"/>
<line x1="1297.68" y1="122.50" x2="1297.68" y2="177.10" stroke="#231f20" stroke-width="2.6"/>
<line x1="1291.28" y1="122.50" x2="1304.08" y2="122.50" stroke="#231f20" stroke-width="2.6"/>
<line x1="1291.28" y1="177.10" x2="1304.08" y2="177.10" stroke="#231f20" stroke-width="2.6"/>
<circle cx="1297.68" cy="141.10" r="5.85" fill="#231f20"/>
<circle cx="1441.52" cy="250.30" r="5.85" fill="#231f20"/>
<circle cx="1585.36" cy="341.00" r="5.85" fill="#231f20"/>
<rect x="1002.00" y="62.00" width="15.50" height="15.00" fill="#231f20"/>
<rect x="1145.60" y="72.90" width="16.20" height="14.90" fill="#231f20"/>
<rect x="1289.30" y="88.90" width="16.90" height="15.10" fill="#231f20"/>
<rect x="1433.30" y="125.60" width="15.60" height="16.00" fill="#231f20"/>
<rect x="1577.30" y="156.20" width="15.60" height="15.40" fill="#231f20"/>
<text transform="translate(917.05,36.50)" font-size="41.5" letter-spacing="0.000" stroke="#231f20" stroke-width="0.35" stroke-linejoin="round" font-weight="bold" font-style="italic">b</text>
<text transform="translate(1147.10,528.20)" font-size="30.2" letter-spacing="1.814" stroke="#231f20" stroke-width="0.45" stroke-linejoin="round" >Radiation dose (Gy)</text>
<text transform="translate(869.30,373.38) rotate(-90)" font-size="30.2" letter-spacing="1.025" stroke="#231f20" stroke-width="0.45" stroke-linejoin="round" >Surviving Fraction</text>
<text transform="translate(1032.50,284.50)" font-size="31.0" letter-spacing="-0.071" stroke="#231f20" stroke-width="0.35" stroke-linejoin="round" >F-test p&lt;0.0001</text>
<text transform="translate(1033.00,318.30)" font-size="31.0" letter-spacing="0.131" stroke="#231f20" stroke-width="0.35" stroke-linejoin="round" >OER= 1.69</text>
<line x1="1025.2" y1="347.2" x2="1066.9" y2="347.2" stroke="#231f20" stroke-width="5"/>
<circle cx="1045.9" cy="347.2" r="6.1" fill="#231f20"/>
<text transform="translate(1087.70,357.40)" font-size="31.0" letter-spacing="0.754" stroke="#231f20" stroke-width="0.35" stroke-linejoin="round" >PC3 21%</text>
<line x1="1025.2" y1="396.2" x2="1066.9" y2="396.2" stroke="#231f20" stroke-width="5"/>
<rect x="1038.4" y="389.2" width="15.4" height="14" fill="#231f20"/>
<text transform="translate(1087.70,406.90)" font-size="31.0" letter-spacing="0.814" stroke="#231f20" stroke-width="0.35" stroke-linejoin="round" >PC3 0.1%</text>
</svg>
</body></html>
